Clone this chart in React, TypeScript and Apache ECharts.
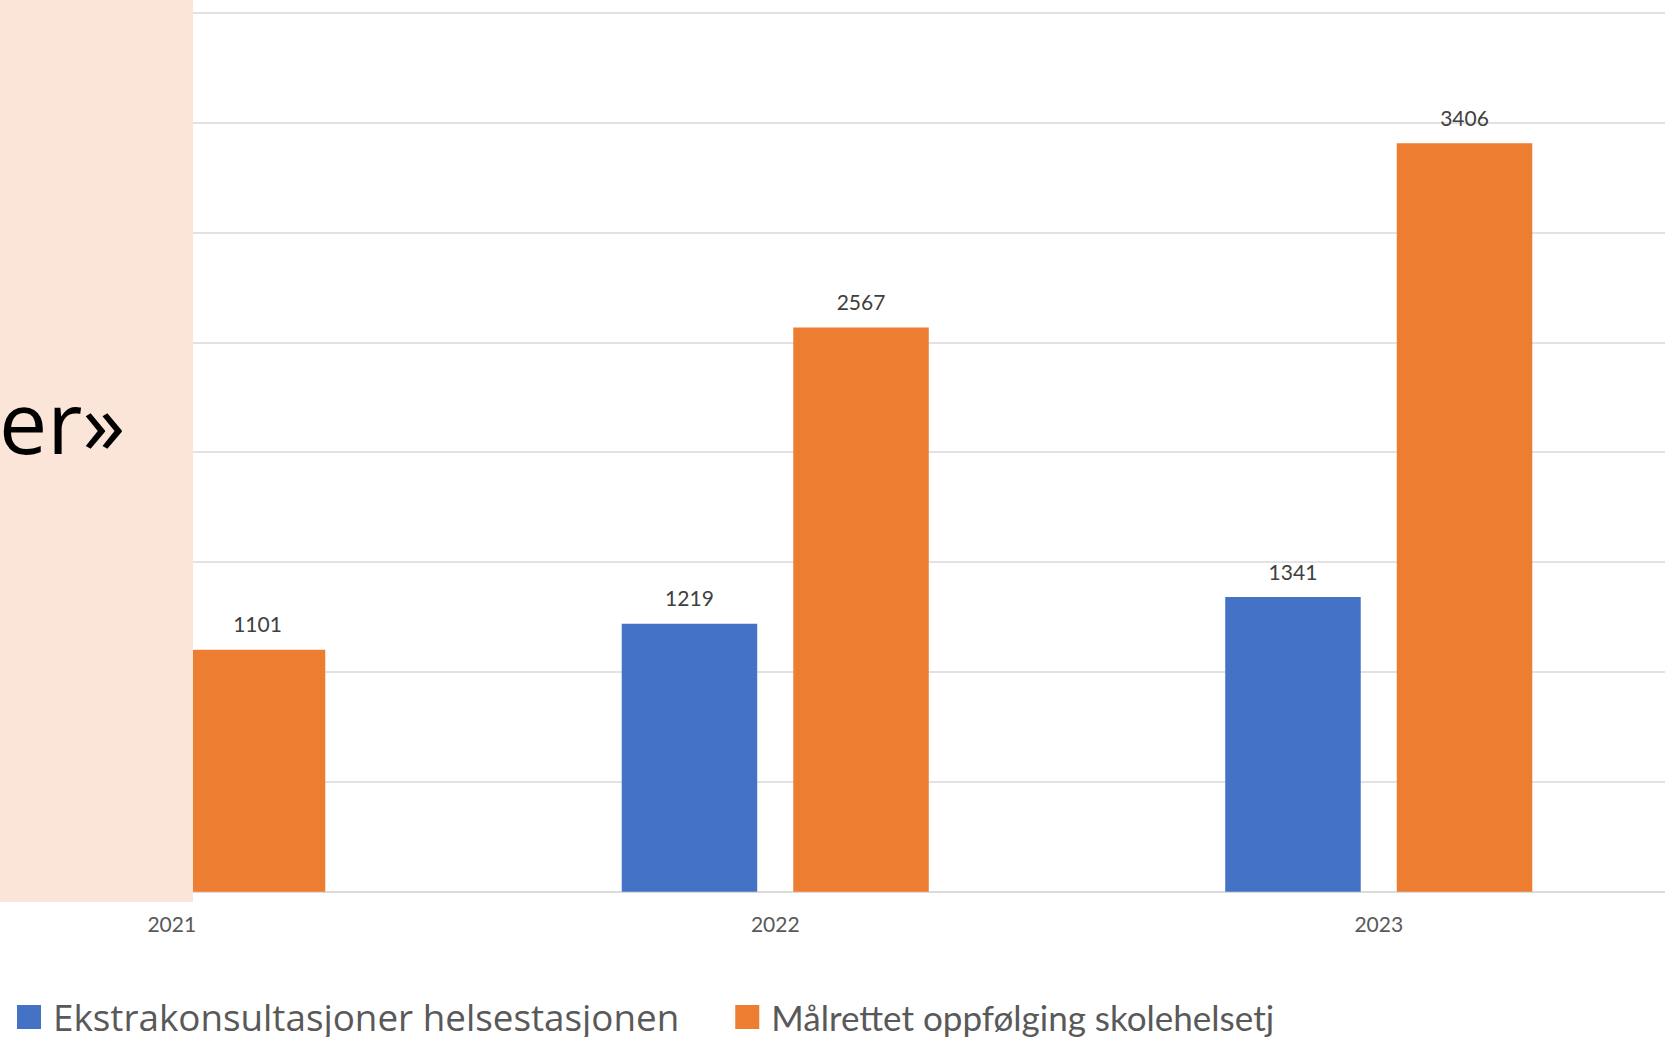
import React, { useEffect, useRef } from "react";
import * as echarts from "echarts";

const categories = ["2021", "2022", "2023"];
const seriesNames = ["Ekstrakonsultasjoner helsestasjonen", "Målrettet oppfølging skolehelsetj"];
const blueValues = [null, 1219, 1341];
const orangeValues = [1101, 2567, 3406];
const overlayText = "er»";

export default function App() {
  const ref = useRef<HTMLDivElement>(null);
  useEffect(() => {
    if (!ref.current) return;
    const chart = echarts.init(ref.current, null, { renderer: "svg" });
    const labelStyle = {
      show: true,
      position: "top",
      distance: 14,
      color: "#404040",
      fontFamily: "Lato",
      fontSize: 21,
      lineHeight: 24,
    };
    chart.setOption({
      animation: false,
      backgroundColor: "#ffffff",
      grid: { left: -130, top: 12.7, width: 1810.5, height: 879, outerBoundsMode: "none" },
      legend: {
        left: 17,
        top: 997,
        padding: 0,
        itemWidth: 24,
        itemHeight: 24,
        itemGap: 56,
        icon: "rect",
        textStyle: { color: "#595959", fontFamily: "Lato", fontSize: 35, lineHeight: 40, padding: [0, 0, 0, 7] },
        data: [
          { name: seriesNames[0], textStyle: { fontFamily: "Open Sans", fontSize: 36.8 } },
          { name: seriesNames[1], textStyle: { fontFamily: "Lato", fontSize: 35 } },
        ],
      },
      xAxis: {
        type: "category",
        data: categories,
        axisTick: { show: false },
        axisLine: { lineStyle: { color: "#d9d9d9", width: 1.5 } },
        axisLabel: { color: "#595959", fontFamily: "Lato", fontSize: 21, lineHeight: 24, margin: 20 },
      },
      yAxis: {
        type: "value",
        min: 0,
        max: 4000,
        interval: 500,
        axisLabel: { show: false },
        axisLine: { show: false },
        axisTick: { show: false },
        splitLine: { lineStyle: { color: "#d9d9d9", width: 1.5 } },
      },
      series: [
        {
          name: seriesNames[0],
          type: "bar",
          data: blueValues,
          barWidth: 135.5,
          barGap: "26.6%",
          itemStyle: { color: "#4472C4" },
          label: labelStyle,
        },
        {
          name: seriesNames[1],
          type: "bar",
          data: orangeValues,
          barWidth: 135.5,
          barGap: "26.6%",
          itemStyle: { color: "#ED7D31" },
          label: labelStyle,
        },
      ],
      graphic: [
        {
          type: "rect",
          z: 100,
          shape: { x: 0, y: 0, width: 193, height: 902 },
          style: { fill: "#FAE5D8" },
        },
        {
          type: "text",
          z: 101,
          x: 125,
          y: 420,
          style: {
            text: overlayText,
            fill: "#000000",
            font: "86px 'Open Sans'",
            textAlign: "right",
            textVerticalAlign: "middle",
          },
        },
      ],
    });
    return () => chart.dispose();
  }, []);
  return (
    <div
      ref={ref}
      style={{ position: "fixed", left: 0, top: 0, width: 1665, height: 1037 }}
    />
  );
}
